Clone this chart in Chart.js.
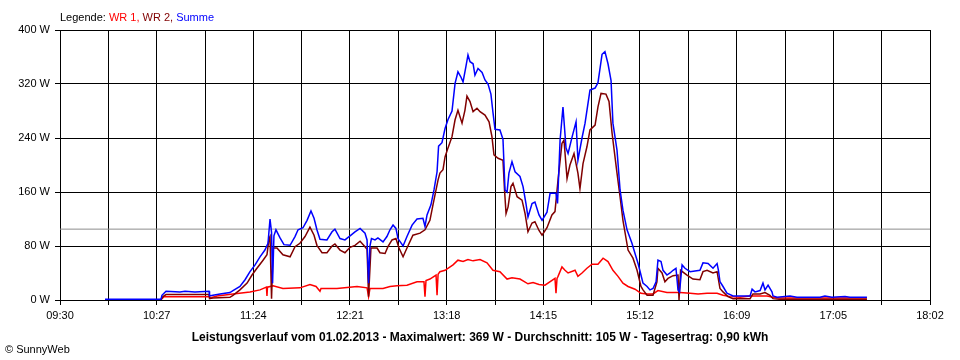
<!DOCTYPE html>
<html>
<head>
<meta charset="utf-8">
<script src="https://cdn.jsdelivr.net/npm/chart.js@4.4.1/dist/chart.umd.min.js"></script>
<style>
    html, body { margin: 0; padding: 0; background: #fff; }
    #wrap { width: 960px; height: 360px; }
</style>
</head>
<body>
<div id="wrap"><canvas id="leistung" width="960" height="360"></canvas></div>
<script>
// times are minutes after midnight, values in W
const xTickLabels = ['09:30', '10:27', '11:24', '12:21', '13:18', '14:15', '15:12', '16:09', '17:05', '18:02'];
const xStart = 570;   // 09:30
const xEnd = 1082;    // 18:02
const yTicks = [0, 80, 160, 240, 320, 400];

const summeTimes = [596.5, 629.4, 630.0, 632.4, 640.6, 643.6, 649.4, 657.7, 658.0, 660.0, 664.2, 670.0, 671.8, 675.9, 678.9, 681.8, 684.8, 687.7, 690.6, 692.4,
    693.6, 694.5, 695.1, 695.9, 697.1, 699.5, 701.8, 705.4, 708.3, 710.1, 713.0, 715.4, 717.7, 719.5, 721.2, 723.0, 727.1, 730.1, 731.8, 734.8,
    737.7, 740.7, 743.6, 746.6, 749.5, 750.7, 751.6, 752.4, 753.3, 755.4, 757.1, 760.1, 762.4, 764.2, 766.0, 767.7, 768.9, 771.9, 774.2, 777.2,
    780.1, 783.6, 784.8, 786.0, 788.3, 790.1, 791.9, 792.8, 794.8, 796.6, 798.3, 800.7, 802.5, 804.2, 806.0, 807.2, 808.9, 810.1, 811.3, 813.1,
    814.2, 816.0, 818.4, 820.1, 821.9, 823.6, 824.8, 826.0, 828.9, 830.7, 831.9, 833.1, 834.2, 836.0, 837.8, 840.7, 842.5, 844.2, 845.4, 847.8,
    849.5, 851.9, 853.7, 856.6, 858.4, 861.9, 862.8, 864.3, 866.0, 867.8, 869.0, 871.3, 873.7, 874.8, 877.2, 879.0, 881.9, 884.9, 886.6, 889.0,
    890.7, 892.5, 894.3, 895.4, 897.8, 899.6, 901.3, 903.7, 906.6, 908.4, 910.2, 911.9, 913.1, 915.5, 917.2, 919.0, 920.8, 921.9, 923.7, 924.9,
    927.2, 929.0, 930.8, 932.5, 933.7, 934.6, 936.1, 937.8, 940.8, 943.7, 946.6, 948.4, 951.4, 954.3, 956.7, 957.5, 958.4, 960.2, 962.5, 966.1,
    976.1, 977.3, 979.0, 982.0, 983.7, 984.9, 986.7, 989.0, 989.6, 992.0, 999.6, 1003.7, 1017.3, 1020.2, 1024.3, 1032.0, 1034.9, 1044.9];
const summeValues = [1, 1, 7, 13, 12, 13, 12, 13, 6, 7, 9, 11, 14, 20, 30, 42, 52, 64, 74, 84,
    120, 100, 25, 95, 104, 92, 82, 81, 94, 104, 107, 118, 132, 121, 104, 90, 89, 101, 105, 91,
    89, 95, 101, 106, 99, 89, 25, 80, 91, 89, 92, 86, 94, 104, 111, 106, 91, 80, 94, 111,
    120, 121, 109, 126, 141, 163, 190, 228, 233, 254, 267, 280, 321, 338, 330, 323, 346, 363, 353, 350,
    333, 343, 337, 326, 320, 305, 278, 253, 252, 238, 163, 160, 188, 205, 190, 183, 168, 143, 123, 143,
    145, 126, 118, 130, 158, 158, 143, 237, 286, 225, 217, 241, 264, 207, 240, 262, 311, 314, 322, 364,
    368, 350, 325, 262, 222, 163, 133, 104, 84, 69, 54, 37, 25, 20, 15, 17, 27, 59, 57, 44,
    37, 40, 44, 47, 15, 12, 52, 47, 42, 43, 44, 55, 54, 47, 54, 44, 27, 20, 10, 6,
    6, 16, 12, 14, 25, 15, 22, 12, 6, 4, 6, 4, 4, 6, 4, 5, 4, 4];

const wr2Times = [596.5, 629.4, 630.6, 632.4, 657.7, 658.0, 660.0, 670.0, 671.8, 675.9, 680.1, 683.0, 685.9, 689.5, 691.8, 693.0, 693.6, 694.5, 695.4, 697.7,
    701.2, 705.4, 708.3, 711.2, 714.2, 717.1, 719.5, 721.2, 724.2, 727.1, 730.1, 731.8, 734.8, 737.7, 740.7, 743.6, 746.6, 749.5, 750.7, 751.6,
    753.0, 756.6, 758.3, 761.3, 763.0, 765.4, 767.7, 769.5, 771.9, 774.2, 777.7, 781.9, 784.8, 787.7, 789.5, 792.5, 793.6, 795.4, 796.6, 798.3,
    800.7, 802.5, 804.2, 806.6, 808.3, 809.5, 811.3, 813.1, 815.4, 817.2, 820.1, 822.5, 824.2, 825.4, 827.8, 830.7, 831.6, 832.5, 833.7, 835.4,
    836.6, 839.0, 841.9, 843.7, 845.4, 847.8, 849.5, 851.9, 853.7, 856.6, 859.5, 861.3, 863.1, 865.4, 866.6, 868.4, 870.1, 872.5, 874.8, 876.0,
    877.8, 880.1, 881.9, 884.9, 886.6, 888.4, 891.3, 893.1, 894.9, 897.8, 899.6, 901.3, 904.3, 907.2, 909.6, 911.9, 913.1, 915.5, 919.0, 921.3,
    921.9, 924.3, 926.0, 927.8, 930.8, 933.7, 934.3, 935.2, 939.0, 942.5, 946.6, 948.4, 950.8, 954.3, 956.7, 958.4, 960.2, 963.1, 966.1, 976.1,
    977.8, 982.0, 984.9, 987.8, 989.6, 993.7, 1044.9];
const wr2Values = [0.5, 0.5, 5, 8, 8, 2, 3, 4, 7, 15, 25, 37, 47, 59, 67, 91, 94, 2, 77, 77,
    67, 64, 79, 84, 94, 108, 96, 81, 70, 70, 80, 83, 74, 70, 78, 81, 87, 79, 75, 5,
    77, 77, 70, 69, 79, 89, 91, 77, 64, 77, 96, 99, 104, 118, 141, 178, 188, 193, 212, 225,
    242, 267, 281, 262, 281, 302, 294, 279, 284, 279, 274, 264, 242, 215, 210, 207, 163, 128, 138, 168,
    173, 153, 148, 128, 101, 114, 116, 103, 96, 107, 126, 131, 178, 232, 237, 180, 200, 217, 188, 165,
    202, 227, 252, 259, 286, 306, 305, 294, 247, 188, 153, 118, 74, 62, 44, 20, 15, 7, 7, 27,
    47, 40, 27, 32, 36, 37, 0, 44, 37, 31, 30, 42, 44, 40, 42, 17, 12, 5, 2, 2,
    9, 9, 11, 7, 2, 1, 1];

const wr1Times = [596.5, 629.4, 631.2, 657.7, 658.3, 662.4, 671.8, 681.8, 687.7, 691.5, 691.8, 692.1, 695.4, 701.2, 711.2, 717.1, 720.7, 723.0, 723.6, 733.0,
    744.8, 750.7, 751.6, 752.4, 760.1, 764.2, 768.3, 774.2, 780.1, 784.2, 784.8, 785.4, 787.7, 791.3, 791.9, 792.5, 793.6, 796.6, 801.3, 804.2,
    807.2, 810.1, 813.1, 817.2, 821.3, 824.8, 828.9, 833.1, 836.0, 840.7, 845.4, 848.4, 851.9, 855.4, 861.3, 861.9, 862.5, 863.1, 865.4, 867.2,
    869.0, 873.1, 874.8, 877.2, 880.1, 883.1, 886.6, 889.6, 892.5, 895.4, 898.4, 901.3, 904.3, 908.4, 911.9, 915.5, 919.0, 921.9, 927.2, 934.9,
    940.8, 945.5, 950.8, 956.7, 960.2, 964.3, 970.2, 976.1, 986.1, 989.6, 993.7, 1044.9];
const wr1Values = [0.5, 0.5, 5, 5, 3, 6, 9, 12, 15, 19, 6, 19, 21, 17, 18, 23, 20, 13, 17, 17,
    20, 18, 5, 17, 17, 20, 21, 22, 27, 27, 5, 29, 31, 37, 7, 38, 42, 44, 52, 59,
    57, 60, 58, 60, 55, 44, 42, 31, 33, 31, 24, 26, 23, 22, 32, 10, 32, 35, 49, 44,
    40, 44, 35, 40, 47, 53, 53, 62, 57, 44, 35, 25, 20, 16, 10, 9, 9, 14, 11, 11,
    10, 9, 10, 10, 7, 5, 4, 6, 6, 4, 3, 3];

const average = 105;

const legendParts = [['Legende: ', '#000000'], ['WR 1, ', '#ff0000'], ['WR 2, ', '#800000'], ['Summe', '#0000ff']];
const footerTitle = 'Leistungsverlauf vom 01.02.2013 - Maximalwert: 369 W - Durchschnitt: 105 W - Tagesertrag: 0,90 kWh';
const copyright = '\u00a9 SunnyWeb';

const FONT = '"Liberation Sans", Arial, sans-serif';

function toPoints(times, values) {
    return times.map((t, i) => ({ x: t, y: values[i] }));
}

// legend, bottom headline and copyright are plain canvas text
const textPlugin = {
    id: 'sunnyText',
    afterDraw(chart) {
        const ctx = chart.ctx;
        ctx.save();
        ctx.textBaseline = 'alphabetic';
        ctx.font = '11px ' + FONT;
        let x = chart.chartArea.left;
        legendParts.forEach(([txt, col]) => {
            ctx.fillStyle = col;
            ctx.fillText(txt, x, 21);
            x += ctx.measureText(txt).width;
        });
        ctx.fillStyle = '#000';
        ctx.font = 'bold 12px ' + FONT;
        ctx.textAlign = 'center';
        ctx.fillText(footerTitle, chart.width / 2, 341);
        ctx.font = '11px ' + FONT;
        ctx.textAlign = 'left';
        ctx.fillText(copyright, 5, 353);
        ctx.restore();
    }
};

const lineStyle = { borderWidth: 1.5, pointRadius: 0, fill: false, tension: 0 };

new Chart(document.getElementById('leistung'), {
    type: 'line',
    data: {
        datasets: [
            { label: 'Summe', data: toPoints(summeTimes, summeValues), borderColor: '#0000ff', ...lineStyle },
            { label: 'WR 2', data: toPoints(wr2Times, wr2Values), borderColor: '#800000', ...lineStyle },
            { label: 'WR 1', data: toPoints(wr1Times, wr1Values), borderColor: '#ff0000', ...lineStyle },
            { label: 'Durchschnitt', data: [{ x: xStart, y: average }, { x: xEnd, y: average }],
              borderColor: '#8c8c8c', borderWidth: 1, pointRadius: 0, fill: false }
        ]
    },
    options: {
        responsive: false,
        animation: false,
        events: [],
        layout: { padding: { left: 0, right: 30, top: 30, bottom: 0 } },
        plugins: { legend: { display: false }, tooltip: { enabled: false }, title: { display: false } },
        scales: {
            x: {
                type: 'linear',
                min: xStart,
                max: xEnd,
                afterBuildTicks(scale) {
                    const n = (xTickLabels.length - 1) * 2;
                    scale.ticks = [];
                    for (let i = 0; i <= n; i++) {
                        scale.ticks.push({ value: xStart + i * (xEnd - xStart) / n });
                    }
                },
                afterFit(scale) { scale.height = 60; },
                ticks: {
                    autoSkip: false,
                    maxRotation: 0,
                    padding: 4,
                    color: '#000',
                    font: { family: FONT, size: 11 },
                    callback: (v, i) => (i % 2 === 0 ? xTickLabels[i / 2] : '')
                },
                grid: { color: '#000', lineWidth: 1, tickLength: 5, drawTicks: true },
                border: { color: '#000', width: 1 }
            },
            y: {
                min: 0,
                max: 400,
                afterBuildTicks(scale) {
                    scale.ticks = yTicks.map(v => ({ value: v }));
                },
                afterFit(scale) { scale.width = 60; },
                ticks: {
                    padding: 5,
                    color: '#000',
                    font: { family: FONT, size: 11 },
                    callback: v => v + ' W'
                },
                grid: { color: '#000', lineWidth: 1, tickLength: 5, drawTicks: true },
                border: { color: '#000', width: 1 }
            }
        }
    },
    plugins: [textPlugin]
});
</script>
</body>
</html>
